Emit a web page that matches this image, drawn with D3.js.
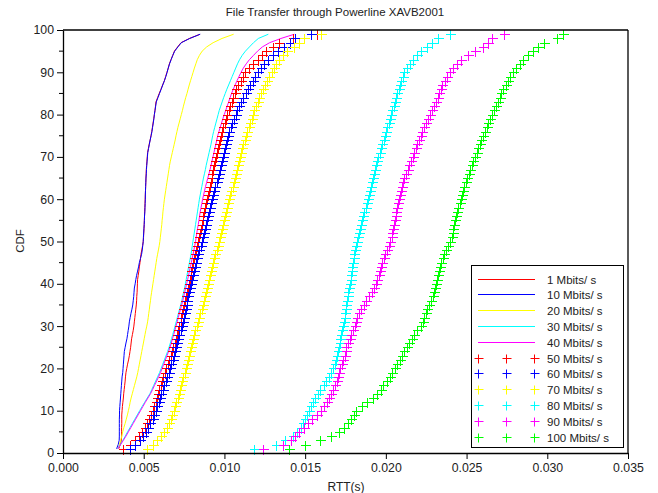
<!DOCTYPE html>
<html><head><meta charset="utf-8">
<script src="https://cdn.jsdelivr.net/npm/d3@7"></script>
<style>body{margin:0;background:#fff}svg{display:block}text{font-family:"Liberation Sans",Arial,Helvetica,sans-serif;fill:#222}</style>
</head><body><svg id="c" width="658" height="493"></svg>
<script>
// CDF levels (%) shared by every series
const cdfLevels=[1,2,3,4,5,6,7,8,9,10,11,12,13,14,15,16,17,18,19,20,21,22,23,24,25,26,27,28,29,30,31,32,33,34,35,36,37,38,39,40,41,42,43,44,45,46,47,48,49,50,51,52,53,54,55,56,57,58,59,60,61,62,63,64,65,66,67,68,69,70,71,72,73,74,75,76,77,78,79,80,81,82,83,84,85,86,87,88,89,90,91,92,93,94,95,96,97,98,99];
// RTT values in milliseconds at each CDF level
const rtt1M=[3.45,3.55,3.62,3.63,3.63,3.63,3.64,3.64,3.64,3.66,3.68,3.71,3.74,3.76,3.79,3.82,3.85,3.87,3.90,3.95,4.00,4.06,4.11,4.15,4.19,4.22,4.25,4.30,4.35,4.39,4.42,4.45,4.48,4.51,4.54,4.56,4.57,4.59,4.60,4.61,4.62,4.66,4.70,4.73,4.77,4.80,4.83,4.88,4.93,4.97,4.99,5.00,5.02,5.03,5.04,5.05,5.06,5.07,5.08,5.09,5.10,5.11,5.12,5.13,5.14,5.15,5.16,5.18,5.20,5.22,5.24,5.29,5.34,5.40,5.45,5.50,5.54,5.58,5.62,5.66,5.70,5.73,5.76,5.86,5.96,6.07,6.17,6.28,6.36,6.44,6.52,6.59,6.69,6.80,6.90,7.10,7.31,7.83,8.49];
const rtt10M=[3.32,3.42,3.48,3.49,3.49,3.49,3.49,3.49,3.50,3.50,3.52,3.54,3.56,3.58,3.60,3.62,3.64,3.66,3.70,3.72,3.74,3.76,3.78,3.80,3.85,3.90,3.96,4.00,4.04,4.08,4.11,4.16,4.21,4.27,4.32,4.35,4.38,4.40,4.42,4.47,4.51,4.56,4.62,4.68,4.73,4.80,4.87,4.91,4.94,4.97,4.98,5.00,5.01,5.03,5.04,5.05,5.07,5.08,5.09,5.10,5.10,5.11,5.12,5.13,5.14,5.16,5.17,5.19,5.21,5.23,5.25,5.30,5.35,5.40,5.46,5.51,5.55,5.59,5.63,5.66,5.70,5.74,5.78,5.88,5.98,6.08,6.18,6.28,6.37,6.45,6.52,6.60,6.70,6.80,6.92,7.12,7.33,7.85,8.50];
const rtt20M=[3.41,3.50,3.57,3.64,3.70,3.77,3.85,3.92,3.99,4.05,4.11,4.16,4.22,4.29,4.36,4.43,4.50,4.57,4.63,4.68,4.73,4.78,4.83,4.88,4.93,4.98,5.03,5.08,5.13,5.19,5.24,5.28,5.31,5.35,5.38,5.42,5.45,5.49,5.53,5.57,5.61,5.65,5.69,5.73,5.77,5.81,5.86,5.91,5.96,6.00,6.03,6.06,6.09,6.12,6.14,6.17,6.19,6.22,6.25,6.28,6.32,6.36,6.40,6.44,6.48,6.52,6.56,6.60,6.65,6.71,6.77,6.83,6.89,6.95,7.00,7.06,7.12,7.19,7.26,7.33,7.40,7.46,7.53,7.60,7.68,7.75,7.82,7.90,7.98,8.06,8.14,8.23,8.32,8.45,8.62,8.90,9.30,9.85,10.57];
const rtt30M=[3.39,3.55,3.71,3.86,4.00,4.15,4.30,4.45,4.60,4.75,4.90,5.06,5.22,5.38,5.50,5.62,5.74,5.86,5.98,6.08,6.18,6.28,6.38,6.48,6.57,6.65,6.72,6.80,6.87,6.94,7.01,7.08,7.15,7.22,7.29,7.36,7.41,7.47,7.53,7.58,7.63,7.68,7.73,7.78,7.83,7.88,7.93,7.97,8.01,8.05,8.09,8.13,8.17,8.21,8.25,8.29,8.33,8.37,8.41,8.45,8.50,8.55,8.60,8.65,8.70,8.76,8.82,8.87,8.93,8.99,9.05,9.11,9.17,9.22,9.27,9.33,9.40,9.47,9.54,9.61,9.68,9.77,9.86,9.95,10.05,10.15,10.26,10.37,10.48,10.59,10.70,10.81,10.94,11.10,11.30,11.55,11.80,12.10,12.72];
const rtt40M=[3.40,3.57,3.74,3.90,4.05,4.20,4.35,4.50,4.65,4.80,4.95,5.10,5.26,5.42,5.55,5.67,5.80,5.92,6.04,6.14,6.24,6.34,6.44,6.54,6.63,6.71,6.78,6.86,6.93,7.00,7.07,7.14,7.21,7.28,7.35,7.42,7.48,7.54,7.60,7.66,7.72,7.78,7.83,7.89,7.95,8.00,8.06,8.11,8.16,8.21,8.25,8.29,8.33,8.38,8.42,8.46,8.50,8.55,8.60,8.65,8.71,8.77,8.83,8.90,8.97,9.04,9.11,9.17,9.23,9.29,9.35,9.41,9.47,9.53,9.58,9.66,9.74,9.82,9.90,9.99,10.08,10.17,10.26,10.35,10.44,10.55,10.66,10.78,10.90,11.03,11.17,11.35,11.55,11.80,12.05,12.35,12.80,13.50,14.33];
const rtt50M=[3.70,4.15,4.45,4.70,4.92,5.08,5.22,5.35,5.46,5.56,5.66,5.74,5.82,5.90,5.97,6.05,6.13,6.22,6.31,6.40,6.50,6.59,6.67,6.75,6.83,6.91,6.98,7.05,7.13,7.21,7.28,7.34,7.40,7.46,7.52,7.58,7.64,7.70,7.76,7.81,7.86,7.91,7.96,8.01,8.06,8.11,8.16,8.22,8.30,8.38,8.45,8.50,8.55,8.60,8.65,8.70,8.76,8.82,8.88,8.93,8.98,9.04,9.09,9.14,9.20,9.26,9.32,9.37,9.43,9.49,9.55,9.61,9.67,9.73,9.79,9.86,9.94,10.02,10.10,10.18,10.27,10.36,10.45,10.54,10.63,10.72,10.86,11.00,11.14,11.30,11.55,11.80,12.06,12.30,12.60,13.00,13.40,14.23,15.73];
const rtt60M=[4.17,4.45,4.75,4.95,5.15,5.28,5.40,5.55,5.66,5.75,5.84,5.92,6.00,6.10,6.19,6.28,6.37,6.46,6.55,6.64,6.72,6.79,6.86,6.93,7.00,7.07,7.13,7.20,7.28,7.36,7.43,7.50,7.56,7.61,7.66,7.71,7.76,7.81,7.87,7.93,7.99,8.05,8.11,8.17,8.23,8.30,8.37,8.44,8.52,8.60,8.68,8.74,8.80,8.86,8.92,8.98,9.04,9.10,9.16,9.23,9.30,9.37,9.44,9.51,9.58,9.65,9.72,9.79,9.86,9.92,9.98,10.04,10.09,10.14,10.20,10.29,10.39,10.49,10.59,10.70,10.80,10.92,11.05,11.18,11.31,11.44,11.60,11.75,11.90,12.06,12.27,12.48,12.68,12.98,13.30,13.70,14.05,14.40,15.36];
const rtt70M=[5.20,5.55,5.85,6.08,6.25,6.42,6.55,6.66,6.75,6.85,6.93,7.02,7.10,7.17,7.24,7.31,7.39,7.46,7.53,7.59,7.66,7.72,7.78,7.84,7.90,7.97,8.04,8.12,8.20,8.28,8.36,8.44,8.51,8.58,8.66,8.73,8.79,8.85,8.91,8.97,9.03,9.09,9.15,9.22,9.29,9.36,9.43,9.51,9.59,9.67,9.75,9.81,9.87,9.93,9.99,10.05,10.11,10.17,10.23,10.29,10.36,10.43,10.50,10.57,10.63,10.70,10.76,10.82,10.89,10.97,11.04,11.11,11.18,11.25,11.33,11.41,11.50,11.59,11.68,11.77,11.85,11.95,12.06,12.17,12.28,12.40,12.52,12.65,12.78,12.92,13.05,13.20,13.40,13.62,13.90,14.30,14.60,14.95,15.98];
const rtt80M=[11.81,13.19,13.75,14.23,14.52,14.72,14.87,15.00,15.12,15.25,15.38,15.50,15.62,15.80,15.95,16.15,16.32,16.47,16.62,16.74,16.83,16.90,16.96,17.02,17.08,17.14,17.19,17.25,17.30,17.35,17.40,17.45,17.49,17.52,17.56,17.60,17.64,17.68,17.72,17.77,17.81,17.85,17.89,17.93,17.97,18.01,18.05,18.09,18.13,18.19,18.25,18.32,18.39,18.46,18.53,18.60,18.67,18.74,18.81,18.87,18.93,18.99,19.05,19.12,19.19,19.26,19.33,19.40,19.47,19.54,19.62,19.70,19.78,19.86,19.94,20.02,20.10,20.18,20.26,20.34,20.41,20.48,20.56,20.64,20.72,20.80,20.88,20.96,21.05,21.15,21.30,21.48,21.68,21.90,22.20,22.55,22.85,23.21,23.99];
const rtt90M=[12.40,13.65,14.12,14.40,14.65,14.95,15.20,15.45,15.75,15.98,16.15,16.35,16.50,16.60,16.72,16.85,16.95,17.03,17.10,17.18,17.27,17.36,17.44,17.50,17.56,17.66,17.76,17.86,17.96,18.06,18.14,18.24,18.35,18.48,18.63,18.80,18.97,19.12,19.26,19.38,19.47,19.55,19.63,19.71,19.79,19.88,19.97,20.07,20.17,20.28,20.35,20.40,20.45,20.50,20.55,20.60,20.65,20.70,20.75,20.80,20.86,20.93,21.00,21.07,21.14,21.24,21.35,21.46,21.57,21.68,21.77,21.86,21.95,22.05,22.15,22.25,22.35,22.48,22.61,22.74,22.87,23.00,23.10,23.20,23.30,23.40,23.50,23.65,23.80,23.95,24.15,24.40,24.65,25.10,25.55,26.00,26.30,26.55,27.34];
const rtt100M=[14.02,14.99,15.92,16.62,17.12,17.38,17.65,17.85,18.00,18.15,18.52,18.85,19.20,19.45,19.70,19.85,20.05,20.25,20.40,20.58,20.72,20.87,21.01,21.15,21.30,21.45,21.60,21.76,21.92,22.18,22.28,22.38,22.48,22.55,22.65,22.80,22.90,22.96,23.02,23.08,23.14,23.20,23.27,23.35,23.43,23.52,23.62,23.72,23.85,24.00,24.08,24.14,24.19,24.25,24.31,24.37,24.43,24.50,24.57,24.64,24.71,24.78,24.85,24.94,25.03,25.12,25.22,25.32,25.42,25.52,25.62,25.72,25.82,25.92,26.02,26.13,26.24,26.35,26.46,26.58,26.70,26.82,26.93,27.04,27.15,27.28,27.42,27.57,27.72,27.88,28.06,28.28,28.50,28.80,29.10,29.45,29.80,30.60,30.97];

const seriesNames=["1 Mbits/ s","10 Mbits/ s","20 Mbits/ s","30 Mbits/ s","40 Mbits/ s","50 Mbits/ s","60 Mbits/ s","70 Mbits/ s","80 Mbits/ s","90 Mbits/ s","100 Mbits/ s"];
const seriesValues=[rtt1M,rtt10M,rtt20M,rtt30M,rtt40M,rtt50M,rtt60M,rtt70M,rtt80M,rtt90M,rtt100M];
const seriesColors=["#ff0000","#0000ff","#ffff00","#00ffff","#ff00ff","#ff0000","#0000ff","#ffff00","#00ffff","#ff00ff","#00ff00"];
const seriesKinds=["line","line","line","line","line","plus","plus","plus","plus","plus","plus"];
const xTickValues=[0,0.005,0.010,0.015,0.020,0.025,0.030,0.035];
const yTickValues=[0,10,20,30,40,50,60,70,80,90,100];
const yMinorTicks=[5,15,25,35,45,55,65,75,85,95];
const titleText="File Transfer through Powerline XAVB2001";
const xLabel="RTT(s)", yLabel="CDF";

const svg=d3.select("#c");
svg.append("rect").attr("width",658).attr("height",493).attr("fill","#fff");
const L=63,R=628,T=30,B=453;
const x=d3.scaleLinear().domain([0,0.035]).range([L,R]);
const y=d3.scaleLinear().domain([0,100]).range([B,T]);

const plusPath=(cx,cy)=>`M${cx-4.5},${cy}H${cx+5.5}M${cx},${cy-4.5}V${cy+5.5}`;

// series
const plot=svg.append("g");
seriesValues.forEach((vals,i)=>{
  const pts=vals.map((v,j)=>[v/1000,cdfLevels[j]]);
  if(seriesKinds[i]==="line"){
    plot.append("path").datum(pts)
      .attr("d",d3.line().x(d=>x(d[0])).y(d=>y(d[1])))
      .attr("fill","none").attr("stroke",seriesColors[i]).attr("stroke-width",1);
  }else{
    const g=plot.append("g");
    g.selectAll("path").data(pts).join("path")
      .attr("d",d=>plusPath(Math.round(x(d[0]))+0.5, Math.round(y(d[1]))+0.5))
      .attr("fill","none").attr("stroke",seriesColors[i]).attr("stroke-width",1);
  }
});

// axes
const ax=svg.append("g");
const xa=ax.append("g").attr("transform",`translate(0,${B})`)
  .call(d3.axisBottom(x).tickValues(xTickValues).tickFormat(d3.format(".3f")).tickSize(6).tickSizeOuter(0));
const ya=ax.append("g").attr("transform",`translate(${L},0)`)
  .call(d3.axisLeft(y).tickValues(yTickValues).tickFormat(d3.format("d")).tickSize(6).tickSizeOuter(0));
ya.append("g").selectAll("line").data(yMinorTicks).join("line")
  .attr("x1",-4).attr("x2",0).attr("y1",d=>y(d)).attr("y2",d=>y(d)).attr("stroke","#000");
[xa,ya].forEach(a=>{a.select(".domain").attr("stroke","#000").attr("stroke-width",1.3);
  a.selectAll(".tick line").attr("stroke","#000");
  a.selectAll("text").attr("fill","#222").attr("font-family",'"Liberation Sans",Arial,sans-serif').attr("font-size",12.3);});
xa.selectAll(".tick text").attr("dy","0.71em").attr("y",10);
ya.selectAll(".tick text").attr("x",-9);
// top and right frame
svg.append("line").attr("x1",L).attr("x2",R).attr("y1",T).attr("y2",T).attr("stroke","#000").attr("stroke-width",1.3);
svg.append("line").attr("x1",R).attr("x2",R).attr("y1",T).attr("y2",B).attr("stroke","#000").attr("stroke-width",1.3);

// titles
svg.append("text").attr("x",335).attr("y",16).attr("text-anchor","middle").attr("font-size",11.5).text(titleText);
svg.append("text").attr("x",346).attr("y",491).attr("text-anchor","middle").attr("font-size",12).text(xLabel);
svg.append("text").attr("transform","translate(23.5,241) rotate(-90)").attr("text-anchor","middle").attr("font-size",11.5).text(yLabel);

// legend
const lg=svg.append("g");
lg.append("rect").attr("x",471.5).attr("y",265.5).attr("width",152).attr("height",182)
  .attr("fill","#fff").attr("stroke","#000").attr("stroke-width",1);
seriesNames.forEach((name,i)=>{
  const ry=Math.round(278.5+i*15.8)+0.5;
  if(seriesKinds[i]==="line"){
    lg.append("line").attr("x1",478).attr("x2",535).attr("y1",ry).attr("y2",ry).attr("stroke",seriesColors[i]).attr("stroke-width",1);
  }else{
    [478.5,506.5,534.5].forEach(cx=>{
      lg.append("path").attr("d",`M${cx-4},${ry}H${cx+5}M${cx},${ry-4}V${ry+5}`)
        .attr("fill","none").attr("stroke",seriesColors[i]).attr("stroke-width",1);
    });
  }
  lg.append("text").attr("x",547).attr("y",ry+4).attr("font-size",11.5).text(name);
});
</script></body></html>
